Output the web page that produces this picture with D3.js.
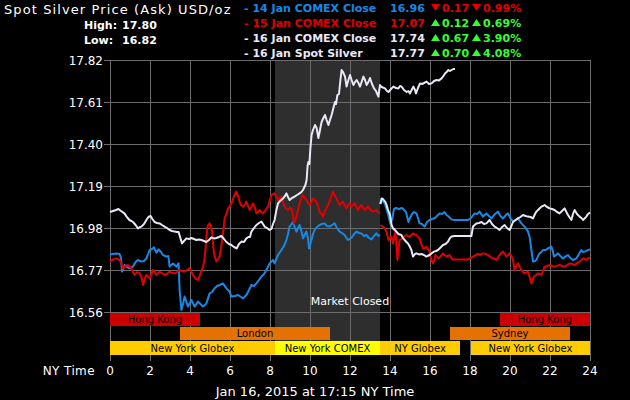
<!DOCTYPE html>
<html><head><meta charset="utf-8">
<script src="https://cdn.jsdelivr.net/npm/d3@7"></script>
<style>
html,body{margin:0;padding:0;background:#000;}
svg{display:block;}
text{font-family:"DejaVu Sans",Verdana,sans-serif;}
</style></head>
<body>
<script>
// ---------- DATA ----------
const yTicks = [16.56, 16.77, 16.98, 17.19, 17.40, 17.61, 17.82];
const xTicks = [0, 2, 4, 6, 8, 10, 12, 14, 16, 18, 20, 22, 24];
const marketClosed = [8.25, 13.5];

const sessionNames = ["Hong Kong", "Hong Kong", "London", "Sydney", "New York Globex", "New York COMEX", "NY Globex", "New York Globex"];
const sessionStart = [0, 19.5, 3.5, 17, 0, 8.25, 13.5, 18.05];
const sessionEnd   = [4.5, 24, 11, 23, 8.25, 13.5, 17.5, 24];
const sessionRow   = [0, 0, 1, 1, 2, 2, 2, 2];
const sessionKind  = ["hk", "hk", "ldn", "ldn", "globex", "comex", "globex", "globex"];

const legendLabels = ["- 14 Jan COMEX Close", "- 15 Jan COMEX Close", "- 16 Jan COMEX Close", "- 16 Jan Spot Silver"];
const legendValues = ["16.96", "17.07", "17.74", "17.77"];
const legendChange = ["0.17", "0.12", "0.67", "0.70"];
const legendPct    = ["0.99%", "0.69%", "3.90%", "4.08%"];
const legendUp     = [false, true, true, true];

const highLow = [["High:", "17.80"], ["Low:", "16.82"]];

// 14 Jan (blue): day segment 0 -> 13.5, prior evening 13.5 -> 24
const blueDay = [[0,16.848],[0.15,16.85],[0.3,16.852],[0.48,16.85],[0.55,16.83],[0.6,16.762],[0.73,16.795],[0.85,16.785],[0.98,16.778],[1.15,16.787],[1.28,16.81],[1.4,16.82],[1.57,16.812],[1.7,16.815],[1.82,16.828],[1.98,16.87],[2.1,16.875],[2.2,16.883],[2.32,16.857],[2.43,16.873],[2.55,16.86],[2.65,16.845],[2.82,16.837],[2.92,16.84],[2.98,16.787],[3.15,16.803],[3.32,16.787],[3.43,16.803],[3.48,16.67],[3.57,16.57],[3.65,16.6],[3.73,16.637],[3.9,16.587],[4.07,16.62],[4.23,16.587],[4.4,16.612],[4.52,16.6],[4.65,16.587],[4.82,16.603],[4.98,16.653],[5.1,16.66],[5.23,16.678],[5.35,16.69],[5.48,16.695],[5.65,16.703],[5.82,16.678],[5.98,16.662],[6.07,16.637],[6.25,16.64],[6.4,16.645],[6.55,16.635],[6.65,16.628],[6.82,16.645],[6.95,16.67],[7.07,16.695],[7.2,16.69],[7.32,16.703],[7.45,16.72],[7.57,16.737],[7.7,16.75],[7.82,16.77],[7.98,16.803],[8.15,16.82],[8.23,16.803],[8.4,16.845],[8.57,16.87],[8.7,16.89],[8.82,16.92],[8.9,16.95],[8.98,16.987],[9.08,17.0],[9.15,17.01],[9.25,16.98],[9.32,16.962],[9.4,16.98],[9.48,16.995],[9.58,16.96],[9.65,16.928],[9.75,16.95],[9.82,16.962],[9.9,16.93],[9.95,16.878],[10.07,16.92],[10.15,16.95],[10.23,16.97],[10.35,16.985],[10.48,16.995],[10.6,17.0],[10.73,17.003],[10.85,16.99],[10.98,16.987],[11.1,16.995],[11.23,17.003],[11.35,16.98],[11.48,16.962],[11.6,16.955],[11.73,16.945],[11.82,16.93],[11.9,16.92],[12.07,16.93],[12.2,16.95],[12.32,16.962],[12.45,16.955],[12.57,16.953],[12.7,16.94],[12.82,16.945],[12.95,16.93],[13.07,16.923],[13.2,16.94],[13.32,16.953],[13.42,16.94],[13.5,16.945]];
const blueEve = [[13.5,17.1],[13.6,17.12],[13.75,17.1],[13.9,17.05],[14.02,17.0],[14.1,17.02],[14.2,17.075],[14.3,17.08],[14.45,17.075],[14.6,17.08],[14.7,17.07],[14.8,17.06],[14.92,17.01],[15.0,17.03],[15.1,17.05],[15.2,17.06],[15.32,17.053],[15.4,17.03],[15.48,17.003],[15.6,17.0],[15.73,16.987],[15.85,17.01],[15.98,17.02],[16.1,17.025],[16.25,17.03],[16.35,17.04],[16.48,17.053],[16.6,17.05],[16.73,17.06],[16.82,17.045],[16.9,17.04],[17.0,17.03],[17.07,17.023],[17.2,17.02],[17.4,17.02],[17.7,17.02],[17.9,17.02],[18.05,17.03],[18.23,17.053],[18.35,17.05],[18.48,17.062],[18.65,17.037],[18.82,17.053],[18.95,17.04],[19.07,17.028],[19.25,17.05],[19.4,17.062],[19.52,17.04],[19.65,17.028],[19.8,17.045],[19.9,17.053],[20.02,17.03],[20.15,17.012],[20.28,17.02],[20.4,17.028],[20.57,17.003],[20.73,16.987],[20.85,16.97],[20.9,16.962],[20.98,16.937],[21.07,16.87],[21.15,16.812],[21.25,16.815],[21.32,16.82],[21.4,16.84],[21.48,16.853],[21.57,16.86],[21.65,16.87],[21.78,16.87],[21.9,16.878],[22.07,16.887],[22.15,16.86],[22.2,16.837],[22.3,16.845],[22.4,16.853],[22.52,16.84],[22.65,16.828],[22.78,16.838],[22.9,16.845],[23.02,16.83],[23.15,16.82],[23.32,16.828],[23.45,16.85],[23.57,16.87],[23.65,16.86],[23.73,16.862],[23.85,16.868],[24,16.873]];

// 15 Jan (red)
const redDay = [[0,16.812],[0.15,16.823],[0.32,16.828],[0.48,16.82],[0.58,16.8],[0.65,16.778],[0.78,16.79],[0.9,16.795],[1.07,16.778],[1.15,16.76],[1.23,16.745],[1.35,16.76],[1.48,16.753],[1.58,16.73],[1.65,16.695],[1.75,16.73],[1.82,16.745],[1.98,16.728],[2.08,16.75],[2.15,16.77],[2.25,16.76],[2.32,16.745],[2.48,16.762],[2.6,16.755],[2.73,16.745],[2.85,16.75],[2.98,16.762],[3.1,16.755],[3.23,16.753],[3.35,16.76],[3.48,16.77],[3.6,16.765],[3.73,16.762],[3.85,16.77],[3.98,16.778],[4.08,16.76],[4.15,16.745],[4.27,16.728],[4.4,16.72],[4.53,16.753],[4.65,16.787],[4.72,16.82],[4.77,16.87],[4.83,16.94],[4.87,16.987],[4.98,17.003],[5.05,16.99],[5.1,16.962],[5.15,16.9],[5.2,16.853],[5.32,16.812],[5.4,16.825],[5.48,16.837],[5.6,16.912],[5.67,16.97],[5.73,17.028],[5.82,17.05],[5.9,17.078],[6.0,17.09],[6.1,17.11],[6.2,17.14],[6.32,17.162],[6.4,17.14],[6.48,17.112],[6.55,17.095],[6.65,17.087],[6.75,17.1],[6.82,17.112],[6.9,17.09],[6.98,17.07],[7.07,17.085],[7.15,17.103],[7.25,17.08],[7.32,17.053],[7.4,17.06],[7.48,17.07],[7.57,17.06],[7.65,17.053],[7.78,17.07],[7.9,17.087],[8.0,17.12],[8.07,17.145],[8.15,17.15],[8.23,17.153],[8.32,17.135],[8.4,17.12],[8.5,17.13],[8.57,17.137],[8.65,17.11],[8.73,17.087],[8.82,17.075],[8.9,17.07],[8.98,17.08],[9.07,17.078],[9.15,17.04],[9.2,17.003],[9.27,17.02],[9.32,17.037],[9.4,17.07],[9.48,17.103],[9.57,17.13],[9.65,17.145],[9.73,17.13],[9.82,17.12],[9.9,17.105],[9.98,17.095],[10.07,17.11],[10.15,17.128],[10.23,17.12],[10.32,17.112],[10.4,17.09],[10.48,17.062],[10.57,17.05],[10.65,17.037],[10.73,17.06],[10.82,17.078],[10.9,17.095],[10.98,17.112],[11.07,17.14],[11.15,17.162],[11.23,17.145],[11.32,17.128],[11.4,17.11],[11.48,17.095],[11.57,17.105],[11.65,17.112],[11.73,17.095],[11.82,17.078],[11.9,17.095],[11.98,17.103],[12.07,17.087],[12.15,17.095],[12.23,17.103],[12.32,17.085],[12.4,17.07],[12.48,17.085],[12.57,17.095],[12.65,17.08],[12.73,17.07],[12.82,17.08],[12.9,17.087],[13.02,17.07],[13.15,17.062],[13.23,17.065],[13.32,17.07],[13.4,17.06],[13.48,17.053]];
const redEve = [[13.52,16.995],[13.65,16.987],[13.75,16.975],[13.82,16.962],[13.93,16.92],[14.0,16.93],[14.07,16.937],[14.15,16.903],[14.22,16.94],[14.27,16.962],[14.32,16.9],[14.37,16.82],[14.42,16.87],[14.48,16.92],[14.57,16.925],[14.65,16.928],[14.73,16.94],[14.82,16.945],[14.9,16.94],[14.98,16.937],[15.07,16.945],[15.15,16.953],[15.25,16.948],[15.32,16.945],[15.4,16.935],[15.48,16.928],[15.57,16.9],[15.65,16.878],[15.73,16.88],[15.82,16.887],[15.9,16.875],[15.98,16.862],[16.07,16.82],[16.15,16.803],[16.22,16.825],[16.27,16.845],[16.35,16.835],[16.43,16.828],[16.55,16.84],[16.65,16.853],[16.73,16.845],[16.82,16.837],[16.9,16.84],[16.98,16.845],[17.07,16.83],[17.15,16.823],[17.4,16.823],[17.7,16.823],[17.9,16.823],[18.05,16.83],[18.15,16.837],[18.3,16.845],[18.4,16.85],[18.52,16.848],[18.65,16.853],[18.78,16.85],[18.9,16.845],[19.02,16.835],[19.15,16.828],[19.25,16.825],[19.32,16.82],[19.4,16.832],[19.48,16.845],[19.57,16.855],[19.65,16.862],[19.73,16.85],[19.82,16.837],[19.9,16.845],[19.98,16.853],[20.07,16.84],[20.15,16.82],[20.23,16.77],[20.32,16.79],[20.4,16.803],[20.48,16.785],[20.57,16.77],[20.65,16.76],[20.73,16.753],[20.82,16.758],[20.9,16.762],[20.98,16.735],[21.07,16.703],[21.13,16.72],[21.2,16.737],[21.3,16.745],[21.4,16.753],[21.48,16.75],[21.57,16.745],[21.65,16.765],[21.73,16.787],[21.85,16.79],[21.98,16.795],[22.1,16.79],[22.23,16.787],[22.35,16.792],[22.48,16.795],[22.6,16.79],[22.73,16.787],[22.85,16.795],[22.98,16.803],[23.1,16.8],[23.23,16.795],[23.35,16.805],[23.48,16.812],[23.57,16.82],[23.65,16.828],[23.73,16.825],[23.82,16.82],[23.9,16.828],[24,16.832]];

// 16 Jan (white)
const whiteDay = [[0,17.06],[0.15,17.065],[0.3,17.07],[0.42,17.075],[0.55,17.065],[0.72,17.053],[0.83,17.037],[0.97,17.02],[1.07,17.015],[1.15,17.01],[1.28,16.995],[1.4,16.978],[1.5,16.985],[1.57,16.987],[1.7,17.0],[1.82,17.02],[1.92,17.035],[2.03,17.04],[2.12,17.025],[2.23,17.01],[2.35,17.005],[2.48,17.003],[2.6,16.995],[2.73,16.987],[2.85,16.98],[2.98,16.97],[3.1,16.965],[3.23,16.962],[3.35,16.96],[3.43,16.96],[3.52,16.93],[3.6,16.903],[3.7,16.915],[3.82,16.928],[3.95,16.925],[4.07,16.93],[4.2,16.925],[4.32,16.92],[4.45,16.922],[4.57,16.92],[4.7,16.915],[4.82,16.91],[4.95,16.92],[5.07,16.933],[5.2,16.928],[5.32,16.93],[5.45,16.935],[5.57,16.94],[5.7,16.925],[5.82,16.91],[5.95,16.9],[6.07,16.895],[6.2,16.885],[6.33,16.878],[6.45,16.9],[6.57,16.912],[6.7,16.91],[6.82,16.928],[6.92,16.935],[7.0,16.935],[7.07,16.962],[7.2,16.98],[7.32,16.995],[7.45,17.005],[7.57,17.012],[7.65,17.0],[7.73,16.987],[7.85,16.98],[7.98,16.97],[8.07,16.975],[8.15,17.0],[8.23,17.02],[8.32,17.07],[8.4,17.103],[8.5,17.115],[8.65,17.128],[8.75,17.14],[8.82,17.153],[8.9,17.135],[8.98,17.12],[9.1,17.13],[9.23,17.137],[9.35,17.145],[9.48,17.153],[9.57,17.16],[9.65,17.17],[9.77,17.195],[9.83,17.22],[9.88,17.29],[9.92,17.31],[9.97,17.3],[10.02,17.38],[10.08,17.445],[10.15,17.47],[10.25,17.495],[10.33,17.48],[10.42,17.43],[10.5,17.47],[10.58,17.51],[10.67,17.53],[10.75,17.545],[10.83,17.52],[10.92,17.495],[11.0,17.52],[11.08,17.545],[11.17,17.58],[11.25,17.61],[11.3,17.6],[11.37,17.645],[11.45,17.65],[11.52,17.72],[11.58,17.77],[11.65,17.76],[11.75,17.737],[11.83,17.687],[11.92,17.72],[12.0,17.745],[12.08,17.72],[12.17,17.695],[12.25,17.71],[12.33,17.72],[12.42,17.705],[12.5,17.687],[12.58,17.71],[12.67,17.737],[12.75,17.72],[12.83,17.695],[12.92,17.71],[13.0,17.73],[13.1,17.7],[13.2,17.678],[13.3,17.665],[13.42,17.637],[13.5,17.695],[13.58,17.685],[13.75,17.678],[13.85,17.665],[13.92,17.66],[14.05,17.675],[14.17,17.687],[14.3,17.68],[14.42,17.678],[14.5,17.69],[14.58,17.687],[14.7,17.67],[14.83,17.66],[14.92,17.665],[15.0,17.653],[15.08,17.67],[15.17,17.687],[15.25,17.67],[15.3,17.653],[15.4,17.68],[15.5,17.703],[15.6,17.7],[15.7,17.705],[15.83,17.712],[15.95,17.7],[16.08,17.703],[16.2,17.715],[16.33,17.72],[16.45,17.718],[16.58,17.728],[16.67,17.74],[16.75,17.753],[16.83,17.76],[16.92,17.77],[17.0,17.765],[17.08,17.77],[17.17,17.775],[17.25,17.775]];
const whiteEve = [[13.52,17.1],[13.58,17.128],[13.65,17.125],[13.77,17.11],[13.83,17.095],[13.9,17.07],[14.0,17.045],[14.08,16.995],[14.15,16.978],[14.25,16.97],[14.32,16.962],[14.42,16.95],[14.57,16.945],[14.65,16.93],[14.73,16.92],[14.82,16.91],[14.9,16.903],[15.0,16.885],[15.07,16.87],[15.15,16.837],[15.25,16.85],[15.32,16.853],[15.45,16.848],[15.57,16.85],[15.7,16.845],[15.82,16.837],[15.98,16.845],[16.1,16.855],[16.2,16.862],[16.3,16.865],[16.4,16.87],[16.5,16.88],[16.65,16.895],[16.78,16.9],[16.9,16.912],[17.0,16.93],[17.07,16.937],[17.23,16.94],[17.57,16.94],[17.98,16.94],[18.07,16.94],[18.15,16.987],[18.32,17.003],[18.45,17.005],[18.57,17.01],[18.7,17.0],[18.82,17.003],[18.98,17.02],[19.1,17.0],[19.23,16.987],[19.35,16.98],[19.48,16.97],[19.6,16.985],[19.73,16.995],[19.85,16.98],[19.98,16.97],[20.07,16.99],[20.15,17.01],[20.28,17.02],[20.4,17.028],[20.52,17.035],[20.65,17.045],[20.78,17.04],[20.9,17.037],[21.02,17.035],[21.15,17.028],[21.25,17.05],[21.32,17.062],[21.45,17.075],[21.57,17.087],[21.65,17.09],[21.73,17.095],[21.85,17.085],[21.98,17.078],[22.1,17.075],[22.23,17.07],[22.35,17.06],[22.48,17.053],[22.6,17.065],[22.73,17.078],[22.82,17.06],[22.9,17.045],[23.0,17.03],[23.07,17.02],[23.15,17.05],[23.23,17.07],[23.35,17.05],[23.48,17.037],[23.57,17.03],[23.65,17.02],[23.75,17.03],[23.82,17.037],[23.9,17.05],[24,17.057]];

// ---------- STYLE ----------
const C = {
  blue: "#1689e6", red: "#e00000", white: "#e8e8f6", green: "#33ff33",
  grid: "#6c6c6c", shade: "#2e2e2e",
  hk: "#cc0000", ldn: "#e57200", globex: "#ffcc00", comex: "#ffff00"
};
const seriesColors = [C.blue, C.red, C.white, C.white];

const W = 630, H = 400;
const svg = d3.select("body").append("svg").attr("width", W).attr("height", H);
svg.append("rect").attr("width", W).attr("height", H).attr("fill", "#000");

const x = d3.scaleLinear().domain([0, 24]).range([110, 590]);
const y = d3.scaleLinear().domain([16.56, 17.82]).range([312, 60]);
const rowTop = [313, 327, 341];
const rowH = [13, 13, 14];

// market closed shade
svg.append("rect")
  .attr("x", x(marketClosed[0])).attr("y", y(17.82))
  .attr("width", x(marketClosed[1]) - x(marketClosed[0]))
  .attr("height", rowTop[2] - y(17.82))
  .attr("fill", C.shade);

// vertical grid + ticks
svg.append("g").selectAll("line").data(xTicks).join("line")
  .attr("x1", d => x(d) + 0.5).attr("x2", d => x(d) + 0.5)
  .attr("y1", y(17.82)).attr("y2", 361)
  .attr("stroke", C.grid).attr("stroke-width", 1);

// horizontal grid
svg.append("g").selectAll("line").data(yTicks).join("line")
  .attr("x1", 104).attr("x2", x(24) + 1)
  .attr("y1", d => y(d) + 0.5).attr("y2", d => y(d) + 0.5)
  .attr("stroke", C.grid).attr("stroke-width", 1);

// y labels
svg.append("g").selectAll("text").data(yTicks).join("text")
  .attr("x", 103).attr("y", d => y(d) + 4.5)
  .attr("text-anchor", "end").attr("fill", "#fff")
  .attr("font-size", 12).text(d => d.toFixed(2));

// session bars
const sess = svg.append("g");
sessionNames.forEach((n, i) => {
  const r = sessionRow[i];
  sess.append("rect")
    .attr("x", x(sessionStart[i])).attr("y", rowTop[r])
    .attr("width", x(sessionEnd[i]) - x(sessionStart[i]))
    .attr("height", rowH[r])
    .attr("fill", C[sessionKind[i]]);
  sess.append("text")
    .attr("x", (x(sessionStart[i]) + x(sessionEnd[i])) / 2)
    .attr("y", rowTop[r] + rowH[r] / 2 + 3.5)
    .attr("text-anchor", "middle").attr("fill", "#000")
    .attr("font-size", 10).text(n);
});

// Market Closed label
svg.append("text").attr("x", 350).attr("y", 305)
  .attr("text-anchor", "middle").attr("fill", "#fff").attr("font-size", 11)
  .text("Market Closed");

// lines
const line = d3.line().x(d => x(d[0])).y(d => y(d[1]));
const segs = [[blueEve, C.blue], [blueDay, C.blue], [redEve, C.red], [redDay, C.red], [whiteEve, C.white], [whiteDay, C.white]];
segs.forEach(([data, col]) => {
  svg.append("path").datum(data).attr("d", line)
    .attr("fill", "none").attr("stroke", col).attr("stroke-width", 2)
    .attr("stroke-linejoin", "round");
});

// x labels
svg.append("g").selectAll("text").data(xTicks).join("text")
  .attr("x", d => x(d)).attr("y", 375)
  .attr("text-anchor", "middle").attr("fill", "#fff")
  .attr("font-size", 12).text(d => d);
svg.append("text").attr("x", 95).attr("y", 375).attr("text-anchor", "end")
  .attr("fill", "#fff").attr("font-size", 12).attr("letter-spacing", 0.4).text("NY Time");

svg.append("text").attr("x", 315).attr("y", 396).attr("text-anchor", "middle")
  .attr("fill", "#fff").attr("font-size", 13).text("Jan 16, 2015 at 17:15 NY Time");

// title
svg.append("text").attr("x", 4).attr("y", 14).attr("fill", "#fff")
  .attr("font-size", 13).attr("letter-spacing", 1.1).text("Spot Silver Price (Ask) USD/oz");
highLow.forEach((hl, i) => {
  svg.append("text").attr("x", 84).attr("y", 29 + i * 15).attr("fill", "#fff")
    .attr("font-size", 11).attr("font-weight", "bold").text(hl[0]);
  svg.append("text").attr("x", 122).attr("y", 29 + i * 15).attr("fill", "#fff")
    .attr("font-size", 11).attr("font-weight", "bold").text(hl[1]);
});

// legend
const tri = (g, cx, base, up, col) => {
  const top = base - 8, bot = base - 1;
  const p = up ? `M${cx - 4.5},${bot}L${cx + 4.5},${bot}L${cx},${top}Z`
               : `M${cx - 4.5},${top}L${cx + 4.5},${top}L${cx},${bot}Z`;
  g.append("path").attr("d", p).attr("fill", col);
};
const lg = svg.append("g").attr("font-size", 11).attr("font-weight", "bold");
legendLabels.forEach((lab, i) => {
  const base = 12 + i * 15;
  const col = seriesColors[i];
  const chCol = legendUp[i] ? C.green : C.red;
  lg.append("text").attr("x", 244).attr("y", base).attr("fill", col).text(lab);
  lg.append("text").attr("x", 390).attr("y", base).attr("fill", col).text(legendValues[i]);
  tri(lg, 435.5, base, legendUp[i], chCol);
  lg.append("text").attr("x", 442).attr("y", base).attr("fill", chCol).text(legendChange[i]);
  tri(lg, 476.5, base, legendUp[i], chCol);
  lg.append("text").attr("x", 483).attr("y", base).attr("fill", chCol).text(legendPct[i]);
});
</script>
</body></html>
